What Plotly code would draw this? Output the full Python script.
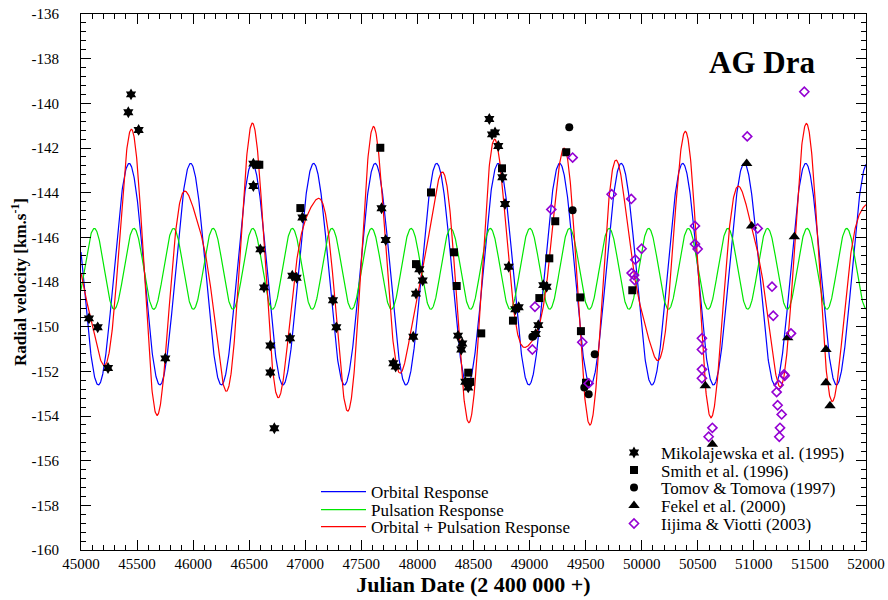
import numpy as np
import plotly.graph_objects as go

# ---------------- data ----------------
# Mikolajewska et al. (1995)
miko_jd = [45071, 45149, 45241, 45422, 45446, 45514, 45752, 46537, 46537, 46599,
           46632, 46688, 46688, 46724, 46864, 46884, 46923, 46974, 47247, 47277,
           47680, 47717, 47785, 47806, 47963, 47987, 48017, 48047, 48362, 48391,
           48400, 48427, 48453, 48641, 48665, 48692, 48721, 48757, 48781, 48814,
           48873, 48903, 49055, 49078, 49122, 49152]
miko_rv = [-149.63, -150.03, -151.85, -140.40, -139.60, -141.19, -151.42, -142.70, -143.70, -146.54,
           -148.24, -150.84, -152.05, -154.55, -150.52, -147.72, -147.81, -145.11, -148.82, -150.03,
           -144.70, -146.12, -151.64, -151.79, -150.45, -148.52, -147.43, -147.93, -150.40, -151.02,
           -150.75, -152.47, -152.72, -140.70, -141.39, -141.30, -141.91, -143.31, -144.51, -147.32,
           -149.22, -149.13, -150.33, -149.93, -148.14, -148.21]

# Smith et al. (1996)
smith_jd = [46567, 46590, 46956, 47669, 47987, 48121, 48326, 48350, 48453, 48471,
            48569, 48754, 48852, 49087, 49176, 49229, 49327, 49452, 49458, 49503, 49916]
smith_rv = [-142.75, -142.75, -144.69, -141.99, -147.20, -143.99, -146.67, -148.18, -152.06, -152.47,
            -150.30, -142.91, -149.73, -148.72, -146.94, -145.28, -142.19, -148.69, -150.20, -152.51, -148.37]

# Tomov & Tomova (1997)
tomov_jd = [49025, 49354, 49384, 49488, 49527, 49581]
tomov_rv = [-150.45, -141.07, -144.79, -152.72, -153.03, -151.23]

# Fekel et al. (2000)
fekel_jd = [50567, 50630, 50936, 50980, 51302, 51361, 51643, 51643, 51679]
fekel_rv = [-152.64, -155.27, -142.69, -145.49, -150.50, -145.97, -151.02, -152.51, -153.54]

# Iijima & Viotti (2003)
iijima_jd = [49025, 49048, 49194, 49384, 49470, 49527, 49732, 49907, 49910, 49931,
             49937, 49943, 49999, 50475, 50475, 50499, 50537, 50537, 50537, 50537,
             50597, 50630, 50941, 51034, 51162, 51173, 51203, 51212, 51221, 51227,
             51233, 51248, 51269, 51275, 51331, 51450]
iijima_rv = [-151.02, -149.11, -144.75, -142.43, -150.70, -152.54, -144.07, -144.28, -147.60, -147.69,
             -147.91, -147.00, -146.51, -145.49, -146.30, -146.52, -150.52, -151.02, -151.91, -152.31,
             -154.93, -154.53, -141.48, -145.60, -148.21, -149.51, -152.93, -153.52, -152.61, -154.93,
             -154.53, -153.93, -152.14, -152.20, -150.30, -139.48]

# Model response parameters
orb_period, orb_epoch, orb_mean, orb_amp = 548.5, 45429.0, -147.65, 4.96
pul_period, pul_epoch, pul_mean, pul_amp = 353.1, 45119.0, -147.41, 1.81

x_range = [45000, 52000]
y_range = [-160, -136]
y_tickvals = list(range(-160, -134, 2))
y_ticktext = [str(v) for v in y_tickvals]

# ---------------- model curves ----------------
t = np.linspace(x_range[0], x_range[1], 2801)
orbital = orb_mean + orb_amp * np.cos(2 * np.pi * (t - orb_epoch) / orb_period)
pulsation = pul_mean + pul_amp * np.cos(2 * np.pi * (t - pul_epoch) / pul_period)
combined = orbital + (pulsation - pul_mean)

SERIF = "Liberation Serif"
fig = go.Figure()

fig.add_trace(go.Scatter(x=t, y=orbital, mode="lines", name="Orbital Response",
                         line=dict(color="#0000ff", width=1.2), legend="legend6"))
fig.add_trace(go.Scatter(x=t, y=pulsation, mode="lines", name="Pulsation Response",
                         line=dict(color="#00e600", width=1.2), legend="legend7"))
fig.add_trace(go.Scatter(x=t, y=combined, mode="lines", name="Orbital + Pulsation Response",
                         line=dict(color="#ff0000", width=1.2), legend="legend8"))

fig.add_trace(go.Scatter(x=miko_jd, y=miko_rv, mode="markers", name="Mikolajewska et al. (1995)",
                         marker=dict(symbol="hexagram", size=9, color="black"), legend="legend"))
fig.add_trace(go.Scatter(x=smith_jd, y=smith_rv, mode="markers", name="Smith et al. (1996)",
                         marker=dict(symbol="square", size=8, color="black"), legend="legend2"))
fig.add_trace(go.Scatter(x=tomov_jd, y=tomov_rv, mode="markers", name="Tomov & Tomova (1997)",
                         marker=dict(symbol="circle", size=8, color="black"), legend="legend3"))
fig.add_trace(go.Scatter(x=fekel_jd, y=fekel_rv, mode="markers", name="Fekel et al. (2000)",
                         marker=dict(symbol="triangle-up", size=10, color="black"), legend="legend4"))
fig.add_trace(go.Scatter(x=iijima_jd, y=iijima_rv, mode="markers", name="Iijima & Viotti (2003)",
                         marker=dict(symbol="diamond-open", size=7, color="#9400d3",
                                     line=dict(width=1.6, color="#9400d3")), legend="legend5"))

W, H = 888, 600
# plot area in pixels
L, R, T, B = 81, 866, 14, 550


def px2paper(px, py):
    return (px - L) / (R - L), (B - py) / (B - T)


def leg(px, py, itemwidth=30):
    x, y = px2paper(px, py)
    return dict(x=x, y=y, xanchor="left", yanchor="middle", bgcolor="rgba(0,0,0,0)",
                borderwidth=0, font=dict(family=SERIF, size=17, color="black"),
                itemwidth=itemwidth, tracegroupgap=0)

marker_rows = [453, 470.5, 488, 506, 524]
line_rows = [492, 510, 527]
layout_legends = {}
for nm, yy in zip(["legend", "legend2", "legend3", "legend4", "legend5"], marker_rows):
    layout_legends[nm] = leg(607, yy, itemwidth=44)
for nm, yy in zip(["legend6", "legend7", "legend8"], line_rows):
    layout_legends[nm] = leg(316, yy, itemwidth=45)

axis_common = dict(showline=True, linecolor="black", linewidth=1, mirror="ticks",
                   ticks="inside", tickcolor="black", ticklen=10, tickwidth=1,
                   showgrid=False, zeroline=False, automargin=False,
                   tickfont=dict(family=SERIF, size=15, color="black"))

tx, ty = px2paper(762, 63)
fig.update_layout(
    width=W, height=H,
    margin=dict(l=L, r=W - R, t=T, b=H - B),
    paper_bgcolor="white", plot_bgcolor="white",
    showlegend=True,
    xaxis=dict(range=x_range, tick0=45000, dtick=500, tickformat="d", **axis_common,
               minor=dict(dtick=100, ticklen=5, ticks="inside", tickcolor="black", showgrid=False),
               title=dict(text="<b>Julian Date (2 400 000 +)</b>",
                          font=dict(family=SERIF, size=22, color="black"), standoff=2)),
    yaxis=dict(range=y_range, tickmode="array", tickvals=y_tickvals, ticktext=y_ticktext,
               **axis_common, ticklabelstandoff=18,
               minor=dict(tick0=-160, dtick=0.4, ticklen=5, ticks="inside", tickcolor="black",
                          showgrid=False),
               title=dict(text="<b>Radial velocity [km.s<sup>-1</sup>]</b>",
                          font=dict(family=SERIF, size=17, color="black"), standoff=0)),
    annotations=[dict(text="<b>AG Dra</b>", x=tx, y=ty, xanchor="center", yanchor="middle",
                      xref="paper", yref="paper", showarrow=False,
                      font=dict(family=SERIF, size=31, color="black"))],
    **layout_legends,
)

# remove the default page margin so the figure sits at the window's corner
fig.write_html("out.html", config={"displayModeBar": False},
               post_script="document.body.style.margin='0px';document.body.style.overflow='hidden';")
